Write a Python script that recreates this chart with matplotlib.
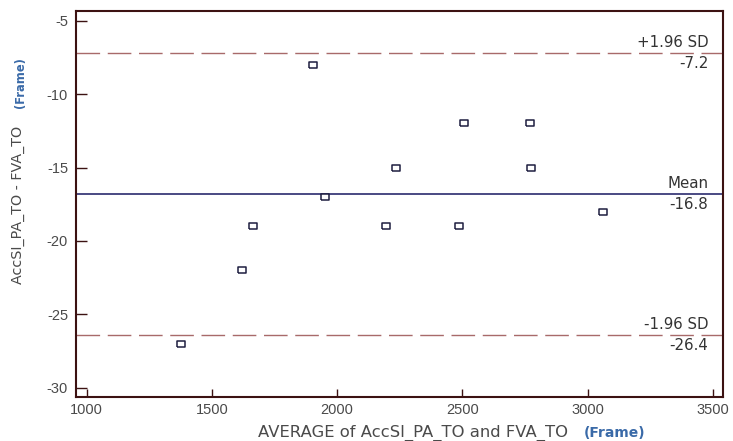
import matplotlib
matplotlib.use("Agg")
import matplotlib.pyplot as plt
from matplotlib.path import Path

plt.rcParams['font.family'] = ['Liberation Sans', 'DejaVu Sans']
plt.rcParams['axes.unicode_minus'] = False

# Bland-Altman data: mean of the two methods vs. their difference
average = [1378, 1621, 1664, 1902, 1952, 2194, 2234, 2487, 2505, 2770, 2776, 3062]
difference = [-27, -22, -19, -8, -17, -19, -15, -19, -12, -12, -15, -18]

mean_diff = -16.8
upper_loa = -7.2
lower_loa = -26.4

x_ticks = [1000, 1500, 2000, 2500, 3000, 3500]
y_ticks = [-5, -10, -15, -20, -25, -30]

text_col = '#4a4a4a'
spine_col = '#3c1212'
navy = '#3b3b7a'
dash_col = '#a86a6a'
frame_blue = '#3a6aa8'
wide = ['DejaVu Sans']

fig = plt.figure(figsize=(7.33, 4.41), dpi=100)
ax = fig.add_axes([0.1033, 0.1005, 0.8835, 0.8752])

ax.set_xlim(956, 3542)
ax.set_ylim(-30.61, -4.32)

# open, slightly wide square markers
box = Path([(-1, -0.75), (1, -0.75), (1, 0.75), (-1, 0.75), (-1, -0.75)])
ax.plot(average, difference, linestyle='none', marker=box, markersize=5.8,
        markerfacecolor='white', markeredgecolor='#1e1e40', markeredgewidth=1.1,
        zorder=3)

ax.axhline(mean_diff, color=navy, linewidth=1.3, zorder=2)
for lvl in (upper_loa, lower_loa):
    ax.axhline(lvl, color=dash_col, linewidth=1.0, dashes=(17, 5.5), zorder=2)

label_x = 3482
lab_kw = dict(ha='right', fontsize=10.8, color='#333333', family=wide)
ax.text(label_x, upper_loa + 0.2, '+1.96 SD', va='bottom', **lab_kw)
ax.text(label_x, upper_loa - 0.2, f'{upper_loa:.1f}', va='top', **lab_kw)
ax.text(label_x, mean_diff + 0.2, 'Mean', va='bottom', **lab_kw)
ax.text(label_x, mean_diff - 0.2, f'{mean_diff:.1f}', va='top', **lab_kw)
ax.text(label_x, lower_loa + 0.2, '-1.96 SD', va='bottom', **lab_kw)
ax.text(label_x, lower_loa - 0.2, f'{lower_loa:.1f}', va='top', **lab_kw)

ax.set_xticks(x_ticks)
ax.set_yticks(y_ticks)
ax.tick_params(axis='x', direction='in', length=6, width=1, color=spine_col,
               labelsize=10.5, labelcolor=text_col, pad=4.5)
ax.tick_params(axis='y', direction='in', length=8, width=1, color=spine_col,
               labelsize=10.5, labelcolor=text_col, pad=5.5)

for s in ax.spines.values():
    s.set_color(spine_col)
    s.set_linewidth(1.5)

# axis titles with the bold unit tag
fig.text(568 / 733, 1 - 433 / 441, 'AVERAGE of AccSI_PA_TO and FVA_TO',
         ha='right', va='center', fontsize=11.8, color=text_col, family=wide)
fig.text(584 / 733, 1 - 433 / 441, '(Frame)', ha='left', va='center',
         fontsize=10, fontweight='bold', color=frame_blue, family=wide)
fig.text(18 / 733, 1 - 205 / 441, 'AccSI_PA_TO - FVA_TO', rotation=90,
         ha='center', va='center', fontsize=10.3, color=text_col, family=wide)
fig.text(21 / 733, 1 - 83 / 441, '(Frame)', rotation=90,
         ha='center', va='center', fontsize=8.3, fontweight='bold', color=frame_blue,
         family=wide)

fig.savefig('out.png', dpi=100)
